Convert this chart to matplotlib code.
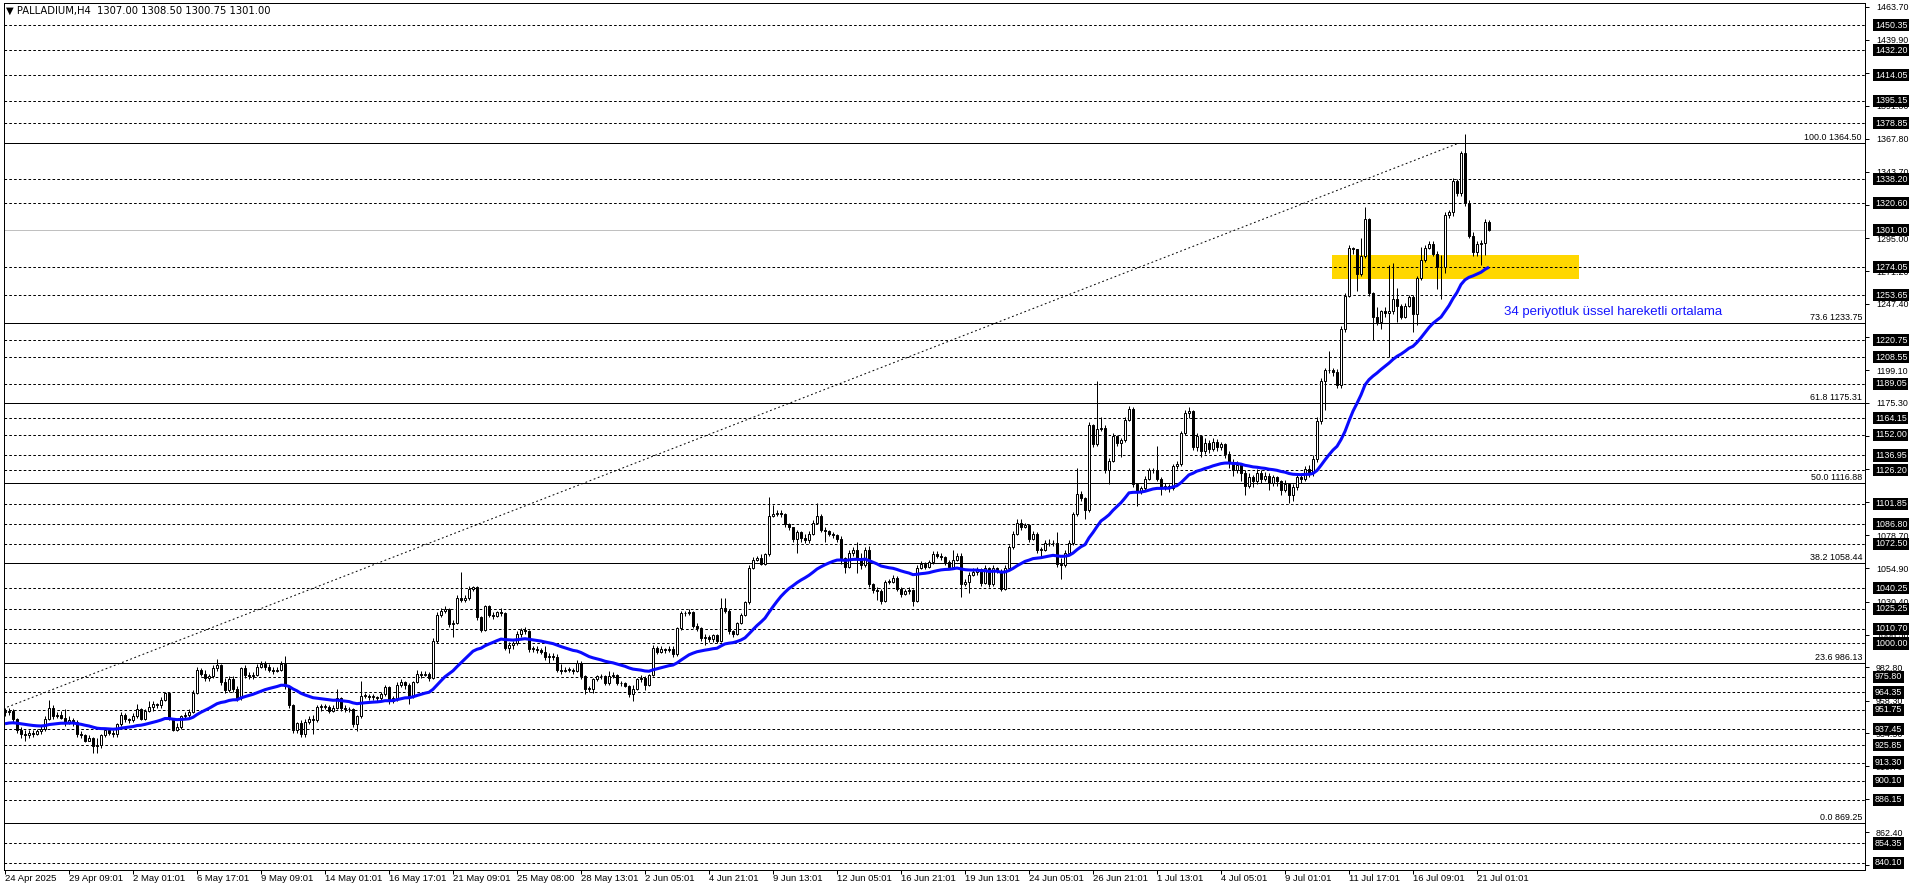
import numpy as np
import matplotlib
matplotlib.use("Agg")
import matplotlib.pyplot as plt
from matplotlib.patches import Rectangle
from matplotlib.transforms import blended_transform_factory

# ---- data (PALLADIUM H4) ----
first_open = 951.0
closes = [
    950, 951, 945, 937, 934, 933, 935, 934, 936, 938,
    945, 953, 947, 948, 946, 942, 944, 943, 934, 933,
    929, 931, 925, 926, 933, 937, 935, 934, 941, 948,
    945, 944, 947, 952, 945, 951, 954, 956, 955, 959,
    964, 945, 937, 939, 947, 948, 950, 964, 981, 978,
    975, 976, 982, 984, 972, 966, 974, 967, 960, 982,
    977, 976, 977, 983, 985, 983, 981, 980, 981, 985,
    969, 955, 937, 942, 934, 943, 945, 944, 954, 954,
    954, 951, 953, 960, 953, 952, 952, 941, 947, 962,
    962, 961, 961, 960, 963, 968, 958, 960, 970, 972,
    970, 962, 972, 978, 977, 978, 975, 1002, 1021, 1024,
    1025, 1014, 1015, 1033, 1032, 1033, 1040, 1041, 1019, 1010,
    1027, 1021, 1020, 1023, 1022, 997, 999, 1000, 1007, 1010,
    1009, 996, 996, 995, 994, 990, 991, 990, 981, 980,
    981, 981, 980, 986, 976, 967, 967, 974, 976, 976,
    971, 976, 977, 971, 971, 969, 963, 967, 974, 975,
    970, 977, 997, 994, 996, 995, 996, 992, 1011, 1022,
    1022, 1023, 1013, 1011, 1004, 1005, 1003, 1006, 1002, 1026,
    1024, 1009, 1007, 1015, 1021, 1030, 1055, 1061, 1062, 1058,
    1065, 1093, 1094, 1095, 1094, 1087, 1085, 1076, 1081, 1077,
    1075, 1080, 1088, 1093, 1083, 1082, 1080, 1079, 1076, 1062,
    1056, 1066, 1068, 1062, 1057, 1068, 1043, 1039, 1038, 1031,
    1045, 1045, 1048, 1040, 1036, 1038, 1039, 1031, 1055, 1058,
    1056, 1059, 1065, 1064, 1063, 1059, 1056, 1061, 1064, 1043,
    1045, 1050, 1052, 1054, 1044, 1055, 1043, 1055, 1053, 1040,
    1055, 1070, 1080, 1088, 1085, 1086, 1076, 1080, 1068, 1068,
    1073, 1073, 1073, 1058, 1057, 1066, 1073, 1094, 1109, 1106,
    1097, 1159, 1145, 1156, 1157, 1126, 1133, 1151, 1146, 1148,
    1163, 1171, 1116, 1111, 1113, 1120, 1126, 1126, 1120, 1113,
    1115, 1113, 1129, 1131, 1153, 1168, 1169, 1143, 1151, 1140,
    1146, 1142, 1147, 1143, 1145, 1138, 1132, 1126, 1130, 1124,
    1115, 1121, 1118, 1124, 1120, 1122, 1117, 1121, 1118, 1112,
    1116, 1108, 1114, 1121, 1120, 1127, 1124, 1134, 1162, 1191,
    1199, 1199, 1198, 1188, 1229, 1253, 1288, 1287, 1269, 1282,
    1309, 1255, 1238, 1234, 1242, 1241, 1242, 1251, 1246, 1238,
    1246, 1252, 1240, 1266, 1279, 1288, 1291, 1284, 1274, 1274,
    1312, 1314, 1337, 1328, 1357, 1321, 1297, 1285, 1291, 1292,
    1307, 1301,
]
highs = [
    953, 953, 952, 946, 939, 937, 937, 937, 938, 940,
    947, 959, 955, 950, 951, 952, 947, 946, 944, 936,
    934, 933, 932, 931, 934, 938, 938, 937, 942, 950,
    949, 946, 949, 956, 953, 952, 958, 958, 957, 961,
    965, 965, 946, 942, 948, 950, 952, 966, 983, 982,
    981, 978, 984, 989, 985, 975, 976, 976, 969, 983,
    984, 979, 979, 985, 987, 987, 985, 983, 983, 987,
    991, 970, 956, 943, 944, 945, 947, 948, 955, 956,
    956, 955, 955, 967, 961, 955, 954, 953, 948, 973,
    964, 963, 963, 962, 965, 970, 969, 962, 972, 974,
    973, 971, 973, 981, 980, 980, 979, 1004, 1023, 1026,
    1027, 1026, 1017, 1035, 1052, 1035, 1042, 1042, 1042, 1020,
    1028, 1028, 1023, 1024, 1026, 1023, 1001, 1002, 1009, 1011,
    1012, 1010, 998, 998, 997, 998, 993, 993, 992, 985,
    983, 983, 982, 988, 987, 977, 969, 975, 977, 978,
    977, 980, 979, 978, 973, 972, 970, 970, 975, 977,
    976, 978, 999, 998, 998, 997, 998, 998, 1012, 1024,
    1024, 1025, 1024, 1015, 1012, 1007, 1006, 1007, 1007, 1033,
    1033, 1025, 1010, 1016, 1022, 1031, 1057, 1063, 1064, 1065,
    1066, 1107, 1101, 1097, 1097, 1095, 1088, 1085, 1083, 1082,
    1080, 1082, 1090, 1102, 1094, 1085, 1083, 1081, 1080, 1078,
    1063, 1068, 1070, 1074, 1066, 1070, 1071, 1044, 1041, 1040,
    1046, 1047, 1050, 1049, 1041, 1040, 1041, 1040, 1057, 1060,
    1059, 1061, 1067, 1067, 1066, 1064, 1061, 1068, 1066, 1066,
    1047, 1052, 1055, 1056, 1055, 1057, 1056, 1057, 1056, 1054,
    1057, 1072, 1082, 1091, 1091, 1088, 1087, 1082, 1081, 1070,
    1075, 1076, 1075, 1081, 1062, 1068, 1075, 1096, 1128, 1111,
    1107, 1161, 1160, 1191, 1165, 1159, 1135, 1153, 1152, 1150,
    1165, 1173, 1172, 1117, 1115, 1122, 1128, 1128, 1144, 1121,
    1117, 1116, 1131, 1133, 1155, 1170, 1172, 1170, 1153, 1152,
    1150, 1148, 1150, 1149, 1147, 1146, 1140, 1134, 1133, 1131,
    1126, 1124, 1123, 1127, 1126, 1125, 1124, 1123, 1122, 1119,
    1119, 1117, 1116, 1123, 1124, 1129, 1130, 1137, 1165, 1193,
    1201, 1213, 1201, 1200, 1231, 1255, 1290, 1289, 1284, 1295,
    1318, 1310, 1256, 1245, 1243, 1245, 1276, 1277, 1259, 1247,
    1248, 1254, 1254, 1268, 1289, 1290, 1293, 1293, 1286, 1283,
    1314, 1316, 1339, 1338, 1359, 1371, 1323, 1300, 1293, 1294,
    1309, 1308.5,
]
lows = [
    947, 948, 943, 935, 931, 929, 931, 932, 933, 934,
    936, 944, 945, 946, 945, 940, 941, 940, 932, 931,
    928, 929, 920, 920, 924, 932, 933, 932, 932, 940,
    943, 942, 943, 946, 944, 944, 950, 951, 953, 953,
    958, 944, 936, 936, 938, 945, 946, 949, 963, 976,
    973, 973, 975, 980, 970, 964, 965, 965, 958, 959,
    975, 974, 974, 976, 982, 981, 979, 978, 979, 980,
    967, 953, 935, 935, 932, 932, 941, 934, 943, 951,
    952, 949, 950, 952, 951, 950, 950, 939, 936, 946,
    960, 959, 959, 958, 959, 962, 956, 957, 958, 968,
    967, 956, 960, 971, 975, 976, 973, 974, 1000, 1019,
    1022, 1012, 1005, 1014, 1030, 1030, 1032, 1038, 1017, 1008,
    1009, 1019, 1018, 1019, 1020, 995, 993, 996, 999, 1005,
    1007, 994, 994, 993, 992, 988, 986, 988, 979, 978,
    979, 979, 978, 979, 974, 963, 965, 964, 973, 974,
    970, 970, 975, 970, 969, 968, 961, 958, 966, 972,
    966, 969, 976, 992, 993, 993, 994, 990, 991, 1010,
    1020, 1021, 1011, 1009, 1002, 999, 1001, 1001, 1000, 1001,
    1022, 1007, 1005, 1006, 1014, 1020, 1029, 1054, 1060, 1057,
    1057, 1064, 1092, 1093, 1092, 1085, 1083, 1074, 1066, 1074,
    1073, 1073, 1079, 1087, 1081, 1074, 1078, 1077, 1074, 1058,
    1051, 1055, 1064, 1051, 1054, 1056, 1041, 1037, 1032, 1029,
    1030, 1043, 1044, 1038, 1034, 1035, 1036, 1027, 1030, 1054,
    1054, 1055, 1058, 1062, 1061, 1057, 1054, 1055, 1060, 1034,
    1042, 1037, 1049, 1050, 1042, 1043, 1041, 1042, 1051, 1038,
    1039, 1054, 1069, 1079, 1083, 1084, 1074, 1075, 1066, 1063,
    1067, 1071, 1071, 1056, 1047, 1056, 1065, 1072, 1093, 1104,
    1091, 1096, 1143, 1144, 1155, 1124, 1116, 1132, 1144, 1136,
    1147, 1162, 1114, 1100, 1109, 1112, 1119, 1124, 1118, 1108,
    1112, 1110, 1112, 1127, 1129, 1152, 1164, 1141, 1140, 1136,
    1138, 1139, 1140, 1140, 1141, 1135, 1128, 1122, 1124, 1118,
    1108, 1113, 1114, 1116, 1117, 1118, 1112, 1115, 1115, 1108,
    1110, 1102, 1104, 1112, 1117, 1118, 1121, 1122, 1132, 1160,
    1170, 1197, 1195, 1186, 1186, 1227, 1252, 1284, 1257, 1268,
    1281, 1253, 1221, 1232, 1229, 1238, 1209, 1240, 1234, 1236,
    1237, 1245, 1227, 1232, 1265, 1278, 1287, 1282, 1258, 1251,
    1270, 1310, 1311, 1326, 1326, 1319, 1295, 1282, 1282, 1276,
    1283, 1300.75,
]
ema_period = 34
ema_seed = 941.0

# time labels every 16 bars
time_labels = ["24 Apr 2025", "29 Apr 09:01", "2 May 01:01", "6 May 17:01", "9 May 09:01",
               "14 May 01:01", "16 May 17:01", "21 May 09:01", "25 May 08:00", "28 May 13:01",
               "2 Jun 05:01", "4 Jun 21:01", "9 Jun 13:01", "12 Jun 05:01", "16 Jun 21:01",
               "19 Jun 13:01", "24 Jun 05:01", "26 Jun 21:01", "1 Jul 13:01", "4 Jul 05:01",
               "9 Jul 01:01", "11 Jul 17:01", "16 Jul 09:01", "21 Jul 01:01"]
label_step = 16

# price scale (tick marks) and the labels that show beside them
scale_ticks = [1463.70, 1439.90, 1415.80, 1391.80, 1367.80, 1343.70, 1319.60, 1295.00,
               1271.20, 1247.40, 1223.30, 1199.10, 1175.30, 1151.20, 1127.10, 1102.90,
               1078.70, 1054.90, 1030.40, 1006.50, 982.80, 958.30, 934.50, 910.70,
               886.60, 862.40, 838.30]
hidden_scale = [1415.80, 1319.60, 1223.30, 1151.20, 1127.10, 1102.90, 886.60, 838.30]

# horizontal lines with highlighted labels
hlines = [1450.35, 1432.20, 1414.05, 1395.15, 1378.85, 1338.20, 1320.60, 1274.05, 1253.65,
          1220.75, 1208.55, 1189.05, 1164.15, 1152.00, 1136.95, 1126.20, 1101.85, 1086.80,
          1072.50, 1040.25, 1025.25, 1010.70, 1000.00, 975.80, 964.35, 951.75, 937.45,
          925.85, 913.30, 900.10, 886.15, 854.35, 840.10]
bid_price = 1301.00

# fibonacci retracement
fib_pcts = ["100.0", "73.6", "61.8", "50.0", "38.2", "23.6", "0.0"]
fib_prices = [1364.50, 1233.75, 1175.31, 1116.88, 1058.44, 986.13, 869.25]
fib_anchor_bars = [-74, 363.5]
fib_anchor_prices = [869.25, 1364.50]

# support zone
zone_bars = [331.75, 393.5]
zone_prices = [1265.7, 1282.9]
note_text = "34 periyotluk üssel hareketli ortalama"
note_pos = (374.75, 1241.5)

title = "\u25BC PALLADIUM,H4  1307.00 1308.50 1300.75 1301.00"

# ---- build ----
c = np.array(closes, dtype=float)
o = np.concatenate([[first_open], c[:-1]])
h = np.maximum(np.array(highs, dtype=float), np.maximum(o, c))
l = np.minimum(np.array(lows, dtype=float), np.minimum(o, c))
x = np.arange(len(c))

alpha = 2.0 / (ema_period + 1)
ema = np.empty_like(c)
prev = ema_seed
for i, v in enumerate(c):
    prev = prev + alpha * (v - prev)
    ema[i] = prev

W, H = 1916, 888
fig = plt.figure(figsize=(W / 100, H / 100), dpi=100)
ax_l, ax_r, ax_t, ax_b = 4, 1865, 3, 870
ax = fig.add_axes([ax_l / W, 1 - ax_b / H, (ax_r - ax_l) / W, (ax_b - ax_t) / H])
ax.set_xlim(-0.25, (ax_r - ax_l) / 4 - 0.25)
ax.set_ylim(835.0, 1466.5)

PX = 0.72  # 1 pixel in points
font = "Liberation Sans"

# horizontal dashed lines
for p in hlines:
    ax.axhline(p, color="black", lw=PX, ls=(0, (2.6, 2.2)), zorder=1)
ax.axhline(bid_price, color="#c0c0c0", lw=PX, zorder=1)

# fib levels
rt = blended_transform_factory(ax.transAxes, ax.transData)
for pct, p in zip(fib_pcts, fib_prices):
    ax.axhline(p, color="black", lw=PX, zorder=1)
    ax.text(1 - 3 / (ax_r - ax_l), p + 0.6, f"{pct} {p:.2f}", transform=rt,
            ha="right", va="bottom", fontsize=6.4, family=font, zorder=2)
ax.plot(fib_anchor_bars, fib_anchor_prices, color="black", lw=PX, ls=(0, (1.8, 2.6)), zorder=1)

# yellow zone
ax.add_patch(Rectangle((zone_bars[0], zone_prices[0]), zone_bars[1] - zone_bars[0],
                       zone_prices[1] - zone_prices[0], facecolor="#ffd700", edgecolor="none", zorder=0.5))

# candles
ax.vlines(x, l, h, color="black", lw=PX, zorder=3)
up = c >= o
body_lo = np.minimum(o, c)
body_h = np.maximum(np.abs(c - o), 0.5)
ax.bar(x[up], body_h[up], bottom=body_lo[up], width=0.68, facecolor="white", edgecolor="black", lw=PX, zorder=3.5)
ax.bar(x[~up], body_h[~up], bottom=body_lo[~up], width=0.68, facecolor="black", edgecolor="black", lw=PX, zorder=3.5)

# EMA 34
ax.plot(x, ema, color="#0a0aff", lw=2.2, zorder=4, solid_capstyle="butt")

ax.text(note_pos[0], note_pos[1], note_text, color="#1515ff", fontsize=9.5, family=font,
        ha="left", va="center", zorder=5)

# title
ax.text(2 / (ax_r - ax_l), 1 - 8 / (ax_b - ax_t), title, transform=ax.transAxes, fontsize=7.2,
        family=["DejaVu Sans"], ha="left", va="center", zorder=6)

# axes frame / ticks
for s in ax.spines.values():
    s.set_color("black")
    s.set_linewidth(PX)
ax.yaxis.tick_right()
ax.set_yticks(scale_ticks)
ax.set_yticklabels(["" if t in hidden_scale else f"{t:.2f}" for t in scale_ticks],
                   fontsize=6.4, family=font)
ax.tick_params(axis="y", direction="out", length=3, width=PX, pad=5)
tick_bars = [i * label_step for i in range(len(time_labels))]
ax.set_xticks(tick_bars)
ax.set_xticklabels([])
ax.tick_params(axis="x", direction="out", length=3, width=PX)

bt = blended_transform_factory(ax.transData, ax.transAxes)
for b, lab in zip(tick_bars, time_labels):
    ax.text(b + 0.1, -4 / (ax_b - ax_t), lab, transform=bt, ha="left", va="top",
            fontsize=6.8, family=font, clip_on=False)

for p in hlines + [bid_price]:
    ax.text(1 + 10 / (ax_r - ax_l), p, f"{p:.2f}", transform=rt, ha="left", va="center",
            fontsize=6.4, family=font, color="white", clip_on=False, zorder=10,
            bbox=dict(boxstyle="square,pad=0.18", fc="black", ec="none"))

fig.savefig("out.png", dpi=100, facecolor="white")
